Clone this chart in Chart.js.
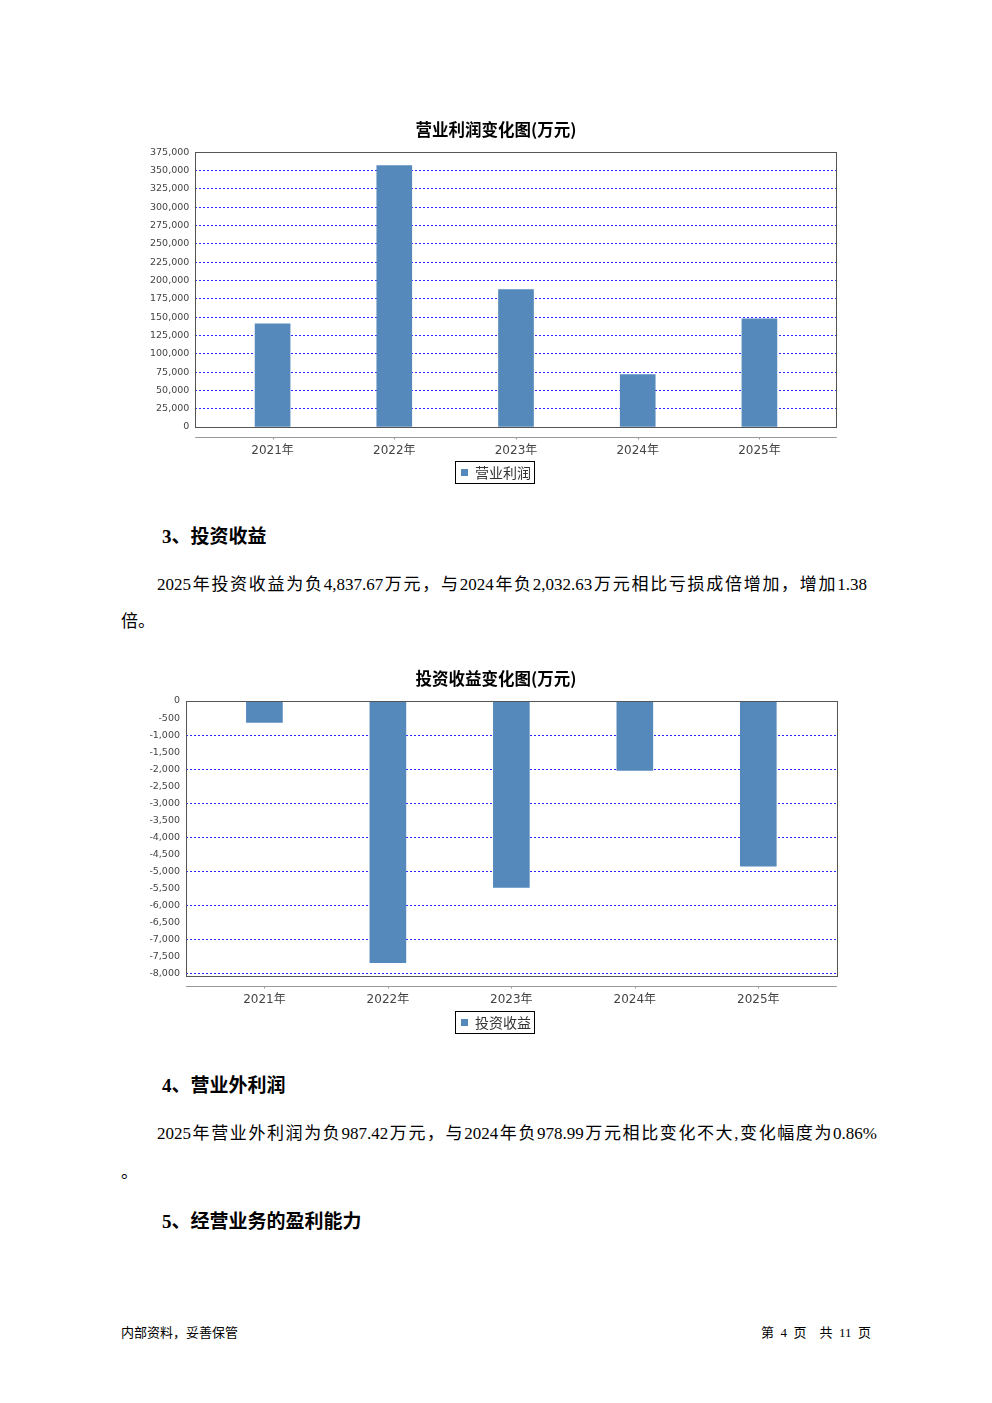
<!DOCTYPE html>
<html lang="zh-CN">
<head>
<meta charset="utf-8">
<title>营业利润与投资收益</title>
<script src="https://cdn.jsdelivr.net/npm/chart.js@4.4.1/dist/chart.umd.min.js"></script>
<style>
  html, body { margin: 0; padding: 0; background: #fff; }
  #page { position: relative; width: 992px; height: 1403px; overflow: hidden; background: #fff; }
  .cv { position: absolute; left: 140px; width: 712px; height: 385px; }
  .h { position: absolute; left: 162px; white-space: nowrap; color: #000;
       font: bold 19px/24px "Liberation Serif", "Noto Sans CJK SC", serif; }
  .line { position: absolute; color: #000; white-space: nowrap;
          font: 17px/24px "Liberation Serif", "Noto Sans CJK SC", serif;
          text-align: justify; text-align-last: justify; }
  .short { position: absolute; left: 121px; color: #000; white-space: nowrap;
           font: 17px/24px "Liberation Serif", "Noto Sans CJK SC", serif; }
  .foot { position: absolute; top: 1325px; color: #000; white-space: nowrap;
          font: 13px/16px "Liberation Serif", "Noto Sans CJK SC", serif; }
</style>
</head>
<body>
<div id="page">
  <div class="cv" style="top:110px"><canvas id="profitChart" width="712" height="385"></canvas></div>

  <div class="h" style="top:525px">3、投资收益</div>
  <div class="line" style="left:157px;top:573px;width:710px">2025年投资收益为负4,837.67万元，与2024年负2,032.63万元相比亏损成倍增加，增加1.38</div>
  <div class="short" style="top:610px">倍。</div>

  <div class="cv" style="top:660px"><canvas id="investChart" width="712" height="385"></canvas></div>

  <div class="h" style="top:1074px">4、营业外利润</div>
  <div class="line" style="left:157px;top:1122px;width:720px">2025年营业外利润为负987.42万元，与2024年负978.99万元相比变化不大,变化幅度为0.86%</div>
  <div class="short" style="top:1161px;left:121px">。</div>

  <div class="h" style="top:1210px">5、经营业务的盈利能力</div>

  <div class="foot" style="left:121px">内部资料，妥善保管</div>
  <div class="foot" style="left:761px">第&ensp;4&ensp;页&ensp;&ensp;共&ensp;11&ensp;页</div>
</div>

<script>
// data
const years = ['2021年', '2022年', '2023年', '2024年', '2025年'];
const profitValues = [141000, 357000, 187500, 71600, 147800];
const profitTicks = [0, 25000, 50000, 75000, 100000, 125000, 150000, 175000, 200000,
                     225000, 250000, 275000, 300000, 325000, 350000, 375000];
const investValues = [-630, -7670, -5460, -2032.63, -4837.67];
const investTicks = [0, -500, -1000, -1500, -2000, -2500, -3000, -3500, -4000,
                     -4500, -5000, -5500, -6000, -6500, -7000, -7500, -8000];

const barColor = '#5588bb';
const tickFont = { family: '"DejaVu Sans", "Noto Sans CJK SC", sans-serif' };

// plot frame, offset x axis line and the boxed legend
const framePlugin = {
    id: 'frame',
    afterDatasetsDraw(chart) {
        const a = chart.chartArea;
        const ctx = chart.ctx;
        ctx.save();
        ctx.strokeStyle = '#555';
        ctx.lineWidth = 1;
        ctx.strokeRect(Math.round(a.left) + 0.5, Math.round(a.top) + 0.5,
                       Math.round(a.right - a.left), Math.round(a.bottom - a.top));
        // category axis drawn a little below the plot
        const y = Math.round(a.bottom) + 10.5;
        ctx.strokeStyle = '#999';
        ctx.beginPath();
        ctx.moveTo(a.left, y);
        ctx.lineTo(a.right, y);
        const xs = chart.scales.x;
        xs.ticks.forEach(t => {
            const x = Math.round(xs.getPixelForValue(t.value)) + 0.5;
            ctx.moveTo(x, y);
            ctx.lineTo(x, y + 2);
        });
        ctx.stroke();
        ctx.restore();
    },
    afterDraw(chart) {
        const hb = chart.legend.legendHitBoxes[0];
        if (!hb) return;
        const ctx = chart.ctx;
        ctx.save();
        ctx.strokeStyle = '#000';
        ctx.lineWidth = 1;
        ctx.strokeRect(Math.round(hb.left) - 5.5, Math.round(hb.top) - 4.5,
                       Math.round(hb.width) + 9, Math.round(hb.height) + 8);
        ctx.restore();
    }
};

function makeBarChart(id, title, label, values, ticks, opts) {
    const ctx = document.getElementById(id).getContext('2d');
    return new Chart(ctx, {
        type: 'bar',
        data: {
            datasets: [{
                label: label,
                data: values.map((v, i) => ({ x: i, y: v })),
                backgroundColor: barColor,
                borderWidth: 0,
                barThickness: opts.barWidth
            }]
        },
        options: {
            responsive: false,
            animation: false,
            devicePixelRatio: 1,
            layout: { padding: { left: 0, right: 0, top: 0, bottom: 5.5 } },
            scales: {
                x: {
                    type: 'linear',
                    offset: false,
                    min: -0.635,
                    max: values.length - 1 + 0.635,
                    afterBuildTicks: s => { s.ticks = years.map((_, i) => ({ value: i })); },
                    afterFit: s => { s.height = opts.xHeight; },
                    grid: { display: false, drawTicks: false, offset: false },
                    border: { display: false },
                    ticks: {
                        autoSkip: false, maxRotation: 0, padding: 17,
                        color: '#444',
                        font: Object.assign({ size: 12 }, tickFont),
                        callback: v => years[v]
                    }
                },
                y: {
                    min: opts.min,
                    max: opts.max,
                    afterBuildTicks: s => { s.ticks = ticks.map(v => ({ value: v })); },
                    afterFit: s => { s.width = opts.yWidth; },
                    grid: {
                        drawTicks: false,
                        lineWidth: 1,
                        color: c => opts.showGrid(c.tick.value) ? '#2a2aff' : 'rgba(0,0,0,0)'
                    },
                    border: { display: false, dash: [2, 2] },
                    ticks: {
                        padding: 6,
                        color: '#444',
                        font: Object.assign({ size: 9.5 }, tickFont),
                        callback: v => v.toLocaleString('en-US')
                    }
                },
                // empty right-hand spacer so the title and legend stay centred on the page
                spacer: {
                    type: 'linear',
                    position: 'right',
                    afterFit: s => { s.width = opts.rightGap; },
                    grid: { display: false, drawTicks: false },
                    border: { display: false },
                    ticks: { display: false }
                }
            },
            plugins: {
                title: {
                    display: true,
                    text: title,
                    color: '#000',
                    font: { family: '"Noto Sans CJK SC", sans-serif', size: 16.5, weight: 'bold' },
                    padding: { top: opts.titleTop, bottom: opts.titleBottom }
                },
                legend: {
                    position: 'bottom',
                    onClick: null,
                    labels: {
                        boxWidth: 7, boxHeight: 7,
                        color: '#333',
                        font: { family: '"Noto Sans CJK SC", sans-serif', size: 14 }
                    }
                },
                tooltip: { enabled: false }
            }
        },
        plugins: [framePlugin]
    });
}

makeBarChart('profitChart', '营业利润变化图(万元)', '营业利润', profitValues, profitTicks, {
    min: 0, max: 375000, barWidth: 35, yWidth: 55.3, rightGap: 15.3, xHeight: 28.5,
    titleTop: 10, titleBottom: 12.5,
    showGrid: v => v !== 0 && v !== 375000
});

makeBarChart('investChart', '投资收益变化图(万元)', '投资收益', investValues, investTicks, {
    min: -8050, max: 0, barWidth: 36, yWidth: 46, rightGap: 15.3, xHeight: 29.8,
    titleTop: 9, titleBottom: 12.2,
    showGrid: v => v !== 0 && v % 1000 === 0
});
</script>
</body>
</html>
